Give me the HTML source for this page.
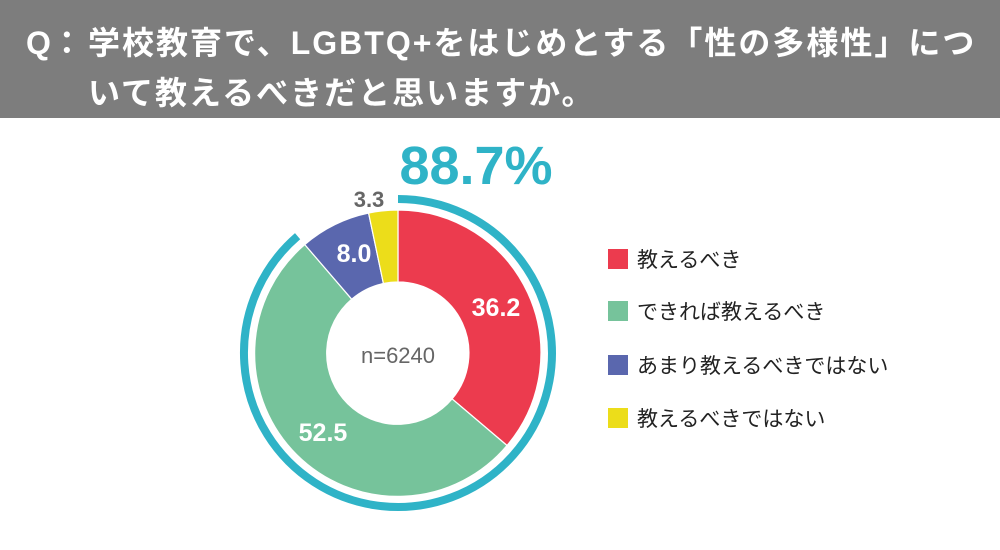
<!DOCTYPE html>
<html><head><meta charset="utf-8"><style>
body{margin:0;width:1000px;height:550px;background:#fff;overflow:hidden;font-family:"Liberation Sans","Noto Sans CJK JP",sans-serif}
.hd{position:absolute;left:0;top:0;width:1000px;height:118px;background:#7d7d7d;color:#fff;font-weight:bold;font-size:32px}
.hd div{position:absolute;white-space:nowrap}
</style></head><body>
<div class="hd">
<div style="left:26px;top:18px">Q：</div>
<div style="left:88px;top:18px;letter-spacing:2px">学校教育で、LGBTQ+をはじめとする「性の多様性」につ</div>
<div style="left:88px;top:68px;letter-spacing:2px">いて教えるべきだと思いますか。</div>
</div>
<svg width="1000" height="550" style="position:absolute;left:0;top:0" font-family="Liberation Sans, Noto Sans CJK JP, sans-serif">
<path d="M398,199 A154,154 0 1 1 297.6,236.2" fill="none" stroke="#2fb3c7" stroke-width="8"/>
<g stroke="#fff" stroke-width="1.2">
<path d="M398,210 A143,143 0 0 1 507,445.5 L452.1,398.9 A71,71 0 0 0 398,282Z" fill="#ec3b4e"/>
<path d="M507,445.5 A143,143 0 1 1 304.8,244.6 L351.7,299.2 A71,71 0 1 0 452.1,398.9Z" fill="#76c39b"/>
<path d="M304.8,244.6 A143,143 0 0 1 368.6,213.1 L383.4,283.5 A71,71 0 0 0 351.7,299.2Z" fill="#5a67ae"/>
<path d="M368.6,213.1 A143,143 0 0 1 398,210 L398,282 A71,71 0 0 0 383.4,283.5Z" fill="#ecdd1a"/>
</g>
<g font-weight="bold" font-size="25" fill="#fff" text-anchor="middle">
<text x="496" y="316">36.2</text>
<text x="323" y="441">52.5</text>
<text x="354" y="262">8.0</text>
</g>
<text x="369" y="207" font-size="22" font-weight="bold" fill="#666" text-anchor="middle">3.3</text>
<text x="398" y="363" font-size="22" fill="#666" text-anchor="middle">n=6240</text>
<text x="476" y="184" font-size="54" font-weight="bold" fill="#2fb3c7" text-anchor="middle">88.7%</text>
<rect x="608" y="249" width="20" height="20" fill="#ec3b4e"/>
<rect x="608" y="301" width="20" height="20" fill="#76c39b"/>
<rect x="608" y="355" width="20" height="20" fill="#5a67ae"/>
<rect x="608" y="408" width="20" height="20" fill="#ecdd1a"/>
<g font-size="21" fill="#222">
<text x="637" y="267">教えるべき</text>
<text x="637" y="319">できれば教えるべき</text>
<text x="637" y="373">あまり教えるべきではない</text>
<text x="637" y="426">教えるべきではない</text>
</g>
</svg>
</body></html>
